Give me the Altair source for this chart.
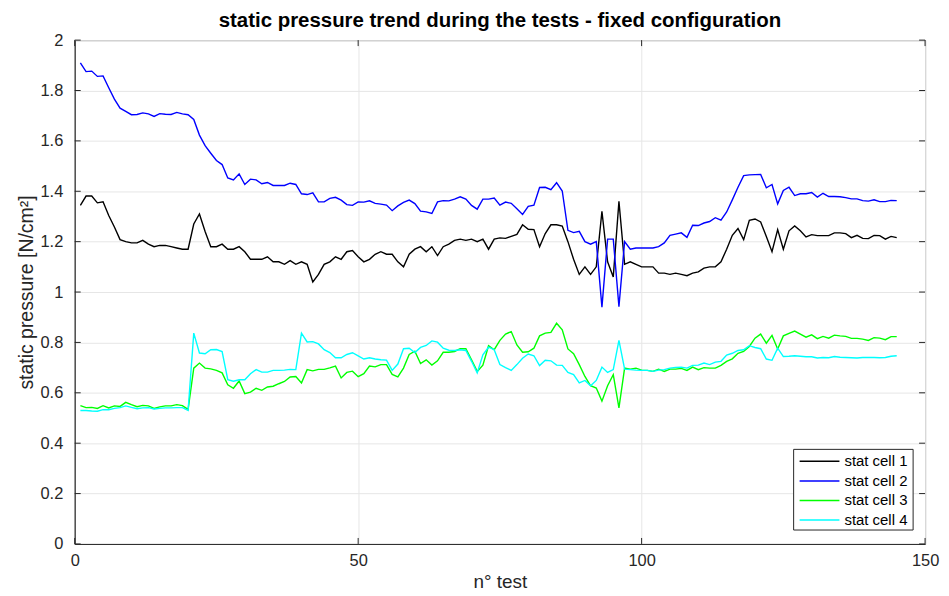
import altair as alt
import pandas as pd

tests = list(range(1, 146))

cell1 = [1.344,1.381,1.381,1.354,1.358,1.304,1.258,1.208,1.20,1.195,
         1.195,1.205,1.19,1.18,1.185,1.185,1.18,1.175,1.17,1.17,
         1.27,1.31,1.24,1.18,1.18,1.19,1.17,1.17,1.18,1.16,
         1.13,1.13,1.13,1.14,1.12,1.12,1.11,1.125,1.11,1.12,
         1.11,1.04,1.07,1.11,1.12,1.14,1.13,1.16,1.165,1.14,
         1.12,1.13,1.15,1.16,1.15,1.15,1.12,1.10,1.15,1.17,
         1.18,1.16,1.18,1.145,1.18,1.19,1.205,1.21,1.205,1.21,
         1.20,1.21,1.17,1.21,1.215,1.213,1.221,1.229,1.267,1.249,
         1.248,1.18,1.232,1.267,1.267,1.262,1.20,1.13,1.07,1.10,
         1.07,1.10,1.32,1.12,1.06,1.36,1.11,1.12,1.11,1.10,
         1.10,1.10,1.075,1.075,1.07,1.075,1.07,1.065,1.075,1.08,
         1.095,1.10,1.10,1.12,1.17,1.225,1.252,1.208,1.285,1.290,
         1.278,1.22,1.16,1.248,1.17,1.243,1.262,1.243,1.219,1.228,
         1.224,1.224,1.224,1.235,1.235,1.232,1.216,1.225,1.213,1.212,
         1.225,1.224,1.210,1.221,1.216]

cell2 = [1.910,1.875,1.877,1.856,1.858,1.811,1.766,1.730,1.717,1.704,
         1.705,1.711,1.707,1.697,1.708,1.706,1.705,1.713,1.707,1.704,
         1.685,1.623,1.581,1.551,1.522,1.506,1.453,1.445,1.469,1.427,
         1.448,1.445,1.430,1.435,1.423,1.423,1.423,1.432,1.427,1.390,
         1.387,1.394,1.358,1.358,1.372,1.376,1.365,1.347,1.344,1.358,
         1.357,1.362,1.352,1.349,1.345,1.323,1.342,1.356,1.365,1.351,
         1.321,1.318,1.312,1.358,1.363,1.362,1.369,1.378,1.369,1.344,
         1.329,1.369,1.369,1.373,1.345,1.357,1.352,1.331,1.308,1.340,
         1.345,1.415,1.416,1.406,1.434,1.401,1.245,1.236,1.241,1.200,
         1.190,1.200,0.940,1.210,1.210,0.942,1.200,1.170,1.175,1.175,
         1.175,1.175,1.180,1.195,1.225,1.230,1.235,1.217,1.265,1.264,
         1.274,1.280,1.295,1.285,1.318,1.366,1.416,1.462,1.465,1.466,
         1.467,1.414,1.427,1.350,1.403,1.416,1.383,1.390,1.390,1.395,
         1.377,1.392,1.379,1.379,1.378,1.375,1.370,1.370,1.363,1.361,
         1.366,1.359,1.359,1.364,1.363]

cell3 = [0.549,0.541,0.542,0.538,0.549,0.540,0.548,0.546,0.562,0.553,
         0.545,0.550,0.548,0.538,0.544,0.548,0.548,0.553,0.549,0.534,
         0.698,0.718,0.698,0.695,0.689,0.679,0.632,0.618,0.647,0.597,
         0.603,0.618,0.610,0.623,0.626,0.636,0.645,0.663,0.665,0.639,
         0.692,0.687,0.693,0.693,0.699,0.706,0.659,0.681,0.686,0.664,
         0.676,0.706,0.703,0.712,0.712,0.673,0.663,0.698,0.752,0.765,
         0.716,0.731,0.710,0.727,0.761,0.761,0.764,0.775,0.775,0.731,
         0.685,0.710,0.787,0.771,0.808,0.833,0.843,0.790,0.761,0.763,
         0.777,0.826,0.837,0.840,0.876,0.850,0.774,0.755,0.712,0.665,
         0.628,0.619,0.567,0.628,0.672,0.540,0.698,0.694,0.698,0.690,
         0.689,0.685,0.694,0.685,0.694,0.694,0.697,0.689,0.702,0.692,
         0.700,0.698,0.698,0.709,0.725,0.735,0.757,0.764,0.784,0.817,
         0.833,0.797,0.828,0.774,0.826,0.836,0.845,0.833,0.821,0.830,
         0.815,0.824,0.817,0.829,0.826,0.824,0.816,0.816,0.813,0.808,
         0.819,0.817,0.811,0.823,0.823]

cell4 = [0.530,0.530,0.528,0.527,0.533,0.533,0.538,0.541,0.548,0.542,
         0.537,0.540,0.541,0.536,0.538,0.540,0.540,0.541,0.541,0.530,
         0.837,0.758,0.755,0.771,0.772,0.764,0.652,0.646,0.652,0.652,
         0.676,0.692,0.682,0.682,0.689,0.689,0.690,0.693,0.692,0.837,
         0.802,0.803,0.794,0.771,0.760,0.739,0.739,0.752,0.759,0.747,
         0.734,0.739,0.734,0.731,0.730,0.689,0.714,0.775,0.777,0.760,
         0.780,0.788,0.806,0.801,0.777,0.769,0.768,0.771,0.768,0.725,
         0.679,0.751,0.781,0.771,0.712,0.700,0.689,0.712,0.737,0.754,
         0.747,0.708,0.729,0.727,0.710,0.709,0.681,0.672,0.639,0.649,
         0.628,0.649,0.702,0.681,0.692,0.808,0.694,0.692,0.690,0.689,
         0.689,0.685,0.690,0.692,0.698,0.701,0.702,0.698,0.709,0.710,
         0.718,0.712,0.722,0.725,0.750,0.757,0.768,0.771,0.787,0.780,
         0.775,0.734,0.729,0.777,0.744,0.745,0.747,0.745,0.743,0.743,
         0.738,0.740,0.739,0.744,0.741,0.740,0.739,0.738,0.740,0.740,
         0.740,0.739,0.740,0.745,0.747]

series_names = ["stat cell 1", "stat cell 2", "stat cell 3", "stat cell 4"]
series_colors = ["#000000", "#0000ff", "#00ff00", "#00ffff"]
x_ticks = [0, 50, 100, 150]
y_ticks = [0, 0.2, 0.4, 0.6, 0.8, 1.0, 1.2, 1.4, 1.6, 1.8, 2.0]

rows = []
for name, vals in zip(series_names, [cell1, cell2, cell3, cell4]):
    for t, v in zip(tests, vals):
        rows.append({"test": t, "value": v, "series": name})
df = pd.DataFrame(rows)

W, H = 854, 506
FONT = "Liberation Sans"
DARK = "#262626"

xscale = alt.Scale(domain=[0, 150], nice=False, zero=False)
yscale = alt.Scale(domain=[0, 2], nice=False)
cscale = alt.Scale(domain=series_names, range=series_colors)

lines = alt.Chart(df).mark_line(strokeWidth=1.4, clip=True).encode(
    x=alt.X("test:Q", scale=xscale,
            axis=alt.Axis(values=x_ticks, title="n° test", grid=True, ticks=False,
                          labelFontSize=16.5, titleFontSize=19, labelPadding=9,
                          titlePadding=3, format="d", labelFlush=False,
                          labelOverlap=False)),
    y=alt.Y("value:Q", scale=yscale,
            axis=alt.Axis(values=y_ticks, title="static pressure [N/cm²]", grid=True,
                          ticks=False, labelFontSize=16.5, titleFontSize=19.5,
                          labelPadding=12, titlePadding=3, format=".1~f",
                          labelFlush=False, labelOverlap=False)),
    color=alt.Color("series:N", scale=cscale, legend=None),
)

# inward tick marks on all four sides (MATLAB box style)
xt = pd.DataFrame({"v": x_ticks})
yt = pd.DataFrame({"v": y_ticks})
xb = alt.Chart(xt).mark_rule(color=DARK, strokeWidth=1).encode(
    x=alt.X("v:Q", scale=xscale), y=alt.value(H), y2=alt.value(H - 6))
xtop = alt.Chart(xt).mark_rule(color=DARK, strokeWidth=1).encode(
    x=alt.X("v:Q", scale=xscale), y=alt.value(0), y2=alt.value(6))
yl = alt.Chart(yt).mark_rule(color=DARK, strokeWidth=1).encode(
    y=alt.Y("v:Q", scale=yscale), x=alt.value(0), x2=alt.value(6))
yr = alt.Chart(yt).mark_rule(color=DARK, strokeWidth=1).encode(
    y=alt.Y("v:Q", scale=yscale), x=alt.value(W - 6), x2=alt.value(W))

main = alt.layer(lines, xb, xtop, yl, yr)

# legend box (inside plot, bottom-right)
leg_df = pd.DataFrame({"series": series_names})
leg_y = alt.Scale(type="point", domain=series_names, range=[423, 482], padding=0)
box = alt.Chart(pd.DataFrame({"a": [0]})).mark_rect(
    fill="white", stroke=DARK, strokeWidth=1).encode(
    x=alt.value(722), x2=alt.value(842), y=alt.value(411), y2=alt.value(492))
leg_lines = alt.Chart(leg_df).mark_rule(strokeWidth=1.5).encode(
    y=alt.Y("series:N", scale=leg_y, axis=None),
    x=alt.value(728), x2=alt.value(768),
    color=alt.Color("series:N", scale=cscale, legend=None))
leg_text = alt.Chart(leg_df).mark_text(
    align="left", baseline="middle", fontSize=15, font=FONT, color="black").encode(
    y=alt.Y("series:N", scale=leg_y, axis=None),
    x=alt.value(773), text="series:N")
legend = alt.layer(box, leg_lines, leg_text)

chart = alt.layer(main, legend).resolve_scale(y="independent").properties(
    width=W, height=H,
    title=alt.Title("static pressure trend during the tests - fixed configuration",
                    fontSize=20.5, fontWeight="bold", font=FONT, color="black",
                    offset=1, frame="group"),
    autosize=alt.AutoSizeParams(type="none"),
    padding={"left": 67, "top": 31, "right": 16, "bottom": 49},
).configure(font=FONT).configure_axis(
    domainColor=DARK, domainWidth=1, gridColor="#e6e6e6", gridOpacity=1,
    labelColor=DARK, titleColor=DARK, labelFont=FONT, titleFont=FONT,
    titleFontWeight="normal",
).configure_view(stroke=DARK, strokeWidth=1)

chart.save("out.html", embed_options={"renderer": "svg", "actions": False})
